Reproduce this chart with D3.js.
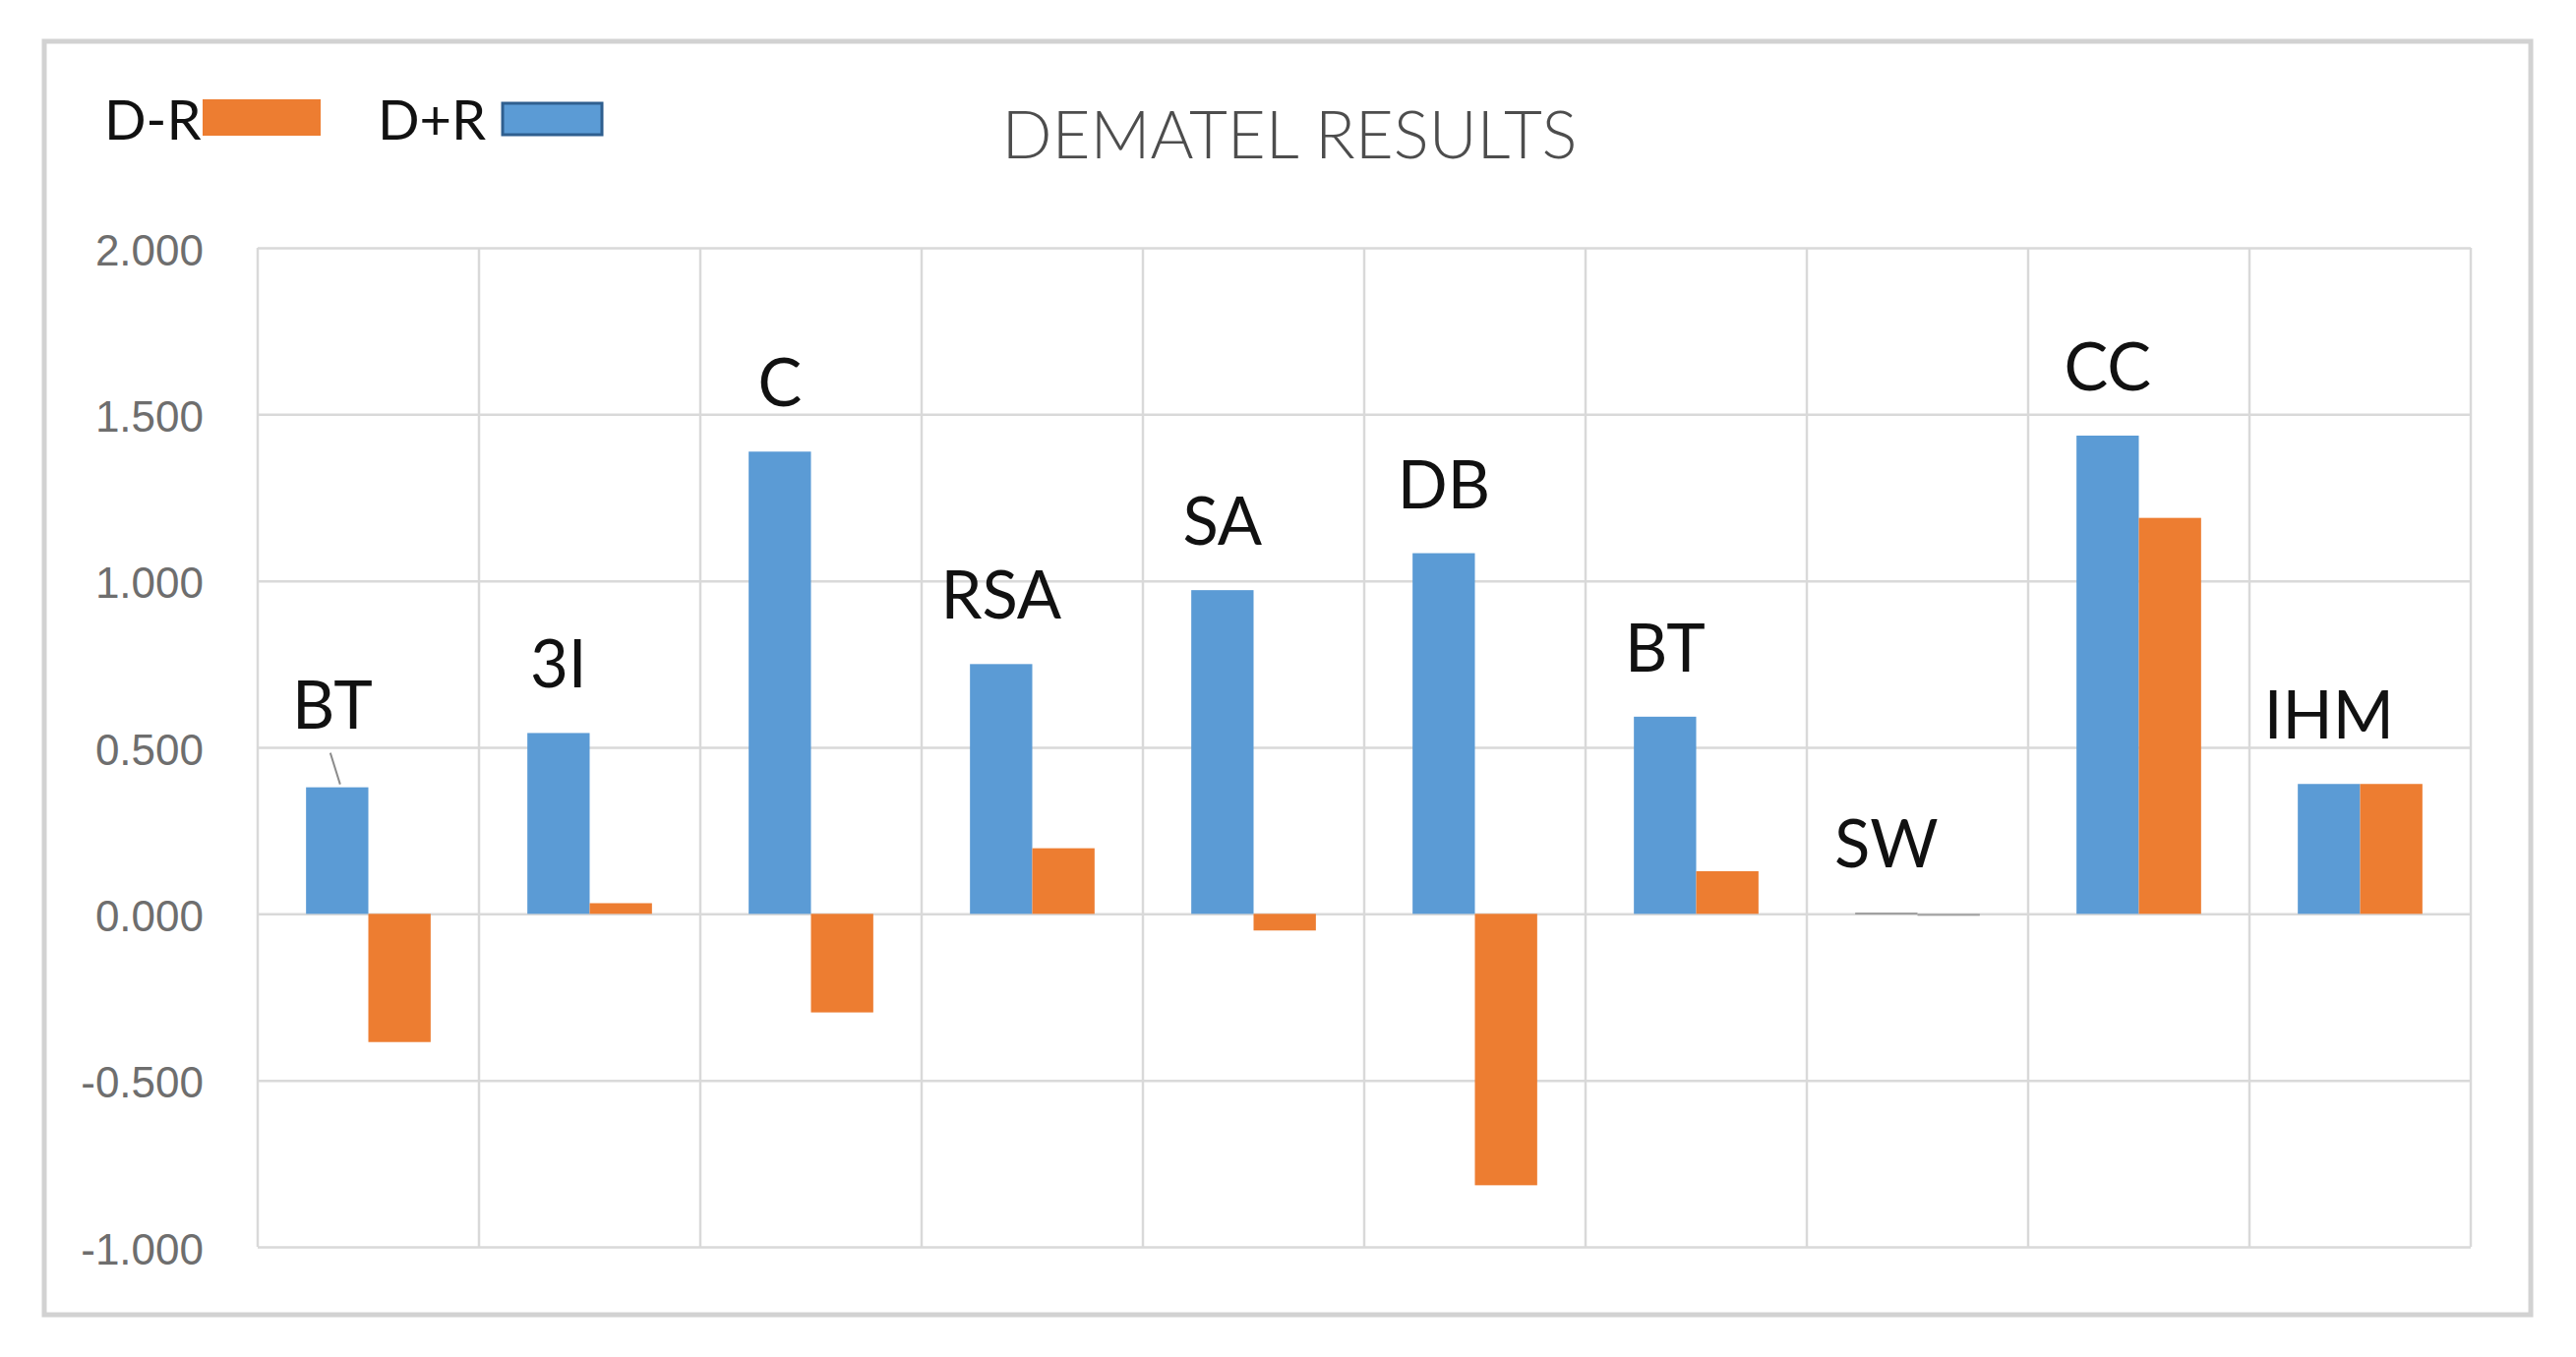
<!DOCTYPE html>
<html>
<head>
<meta charset="utf-8">
<script src="https://cdn.jsdelivr.net/npm/d3@7"></script>
<style>
  html, body { margin: 0; padding: 0; background: #ffffff; }
  svg { display: block; }
</style>
</head>
<body>
<svg id="chart" width="2619" height="1380"></svg>
<script>
// ---- data ----
const categories = ["BT", "3I", "C", "RSA", "SA", "DB", "BT", "SW", "CC", "IHM"];
const dPlusR  = [0.380, 0.543, 1.388, 0.750, 0.972, 1.083, 0.592, 0.004, 1.436, 0.390];
const dMinusR = [-0.385, 0.032, -0.296, 0.197, -0.050, -0.815, 0.128, -0.004, 1.189, 0.390];
const yTicks = [-1, -0.5, 0, 0.5, 1, 1.5, 2];
const seriesNames = ["D+R", "D-R"];
const title = "DEMATEL RESULTS";

// ---- layout ----
const W = 2619, H = 1380;
const plot = { left: 262, right: 2512, top: 252, bottom: 1268 };
const colors = { "D+R": "#5b9bd5", "D-R": "#ed7d31" };

const svg = d3.select("#chart");

// frame
svg.append("rect").attr("x", 0).attr("y", 0).attr("width", W).attr("height", H).attr("fill", "#ffffff");
svg.append("rect")
  .attr("x", 45).attr("y", 42).attr("width", 2528).attr("height", 1295)
  .attr("fill", "#ffffff").attr("stroke", "#d2d2d2").attr("stroke-width", 5);

const idx = categories.map((d, i) => i);
const x0 = d3.scaleBand().domain(idx).range([plot.left, plot.right]).paddingInner(0).paddingOuter(0);
const x1 = d3.scaleBand().domain(seriesNames).range([0, x0.bandwidth()]).paddingInner(0).paddingOuter(0.776);
const y = d3.scaleLinear().domain([-1, 2]).range([plot.bottom, plot.top]);

// horizontal gridlines via axis
const gridY = svg.append("g")
  .attr("transform", `translate(${plot.left},0)`)
  .call(d3.axisLeft(y).tickValues(yTicks).tickSize(-(plot.right - plot.left)).tickFormat(""));
gridY.select(".domain").remove();
gridY.selectAll("line").attr("stroke", "#d9d9d9").attr("stroke-width", 2.5);

// vertical gridlines at category boundaries
const bounds = idx.map(i => x0(i)).concat([plot.right]);
svg.append("g").selectAll("line").data(bounds).join("line")
  .attr("x1", d => d).attr("x2", d => d)
  .attr("y1", plot.top).attr("y2", plot.bottom)
  .attr("stroke", "#d9d9d9").attr("stroke-width", 2.5);

// y tick labels
const fmt = d3.format(".3f");
const axisY = svg.append("g")
  .attr("transform", `translate(207,3)`)
  .call(d3.axisLeft(y).tickValues(yTicks).tickSize(0).tickPadding(0)
    .tickFormat(d => fmt(d).replace("\u2212", "-")));
axisY.select(".domain").remove();
axisY.selectAll("text")
  .attr("font-family", "'Liberation Sans', Arial, sans-serif").attr("font-size", 44).attr("fill", "#6e6e6e");

// bars
const rows = idx.map(i => ({ i, "D+R": dPlusR[i], "D-R": dMinusR[i] }));
const groups = svg.append("g").selectAll("g").data(rows).join("g")
  .attr("transform", d => `translate(${x0(d.i)},0)`);
groups.selectAll("rect")
  .data(d => seriesNames.map(k => ({ key: k, value: d[k] })))
  .join("rect")
  .attr("x", d => x1(d.key))
  .attr("width", x1.bandwidth())
  .attr("y", d => y(Math.max(0, d.value)))
  .attr("height", d => Math.max(2, Math.abs(y(d.value) - y(0))))
  .attr("fill", d => Math.abs(d.value) < 0.01 ? "#a0a0a0" : colors[d.key]);

// category labels above the D+R bar
const labelFont = "Lato, 'Open Sans', sans-serif";
rows.forEach(d => {
  const cx = x0(d.i) + x1("D+R") + x1.bandwidth() / 2;
  const top = y(d["D+R"]);
  const lifted = d.i === 0;
  const lx = lifted ? cx - 5 : cx;
  const base = lifted ? top - 84 + 24 : top - 70 + 24;
  svg.append("text")
    .attr("x", lx).attr("y", base)
    .attr("text-anchor", "middle")
    .attr("font-family", labelFont).attr("font-size", 67)
    .attr("fill", "#111111")
    .text(categories[d.i]);
  if (lifted) {
    svg.append("line")
      .attr("x1", cx - 7).attr("y1", top - 35)
      .attr("x2", cx + 3).attr("y2", top - 3)
      .attr("stroke", "#8c8c8c").attr("stroke-width", 2);
  }
});

// title
const t = svg.append("text")
  .attr("x", 1311).attr("y", 161)
  .attr("text-anchor", "middle")
  .attr("font-family", labelFont).attr("font-weight", 300)
  .attr("font-size", 66).attr("fill", "#4d4d4d")
  .text(title);
const tw = t.node().getComputedTextLength();
t.attr("font-size", 66 * 585 / tw);

// legend
const legend = svg.append("g");
legend.append("text").attr("x", 106).attr("y", 142)
  .attr("font-family", labelFont).attr("font-size", 56).attr("fill", "#111111").text("D-R");
legend.append("rect").attr("x", 206).attr("y", 101).attr("width", 120).attr("height", 37)
  .attr("fill", colors["D-R"]);
legend.append("text").attr("x", 384).attr("y", 142)
  .attr("font-family", labelFont).attr("font-size", 56).attr("fill", "#111111").text("D+R");
legend.append("rect").attr("x", 511).attr("y", 105).attr("width", 101).attr("height", 32)
  .attr("fill", colors["D+R"]).attr("stroke", "#2f5f8f").attr("stroke-width", 3);
</script>
</body>
</html>
